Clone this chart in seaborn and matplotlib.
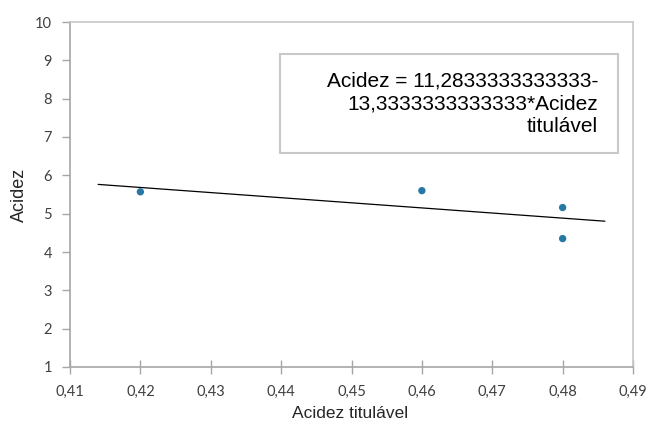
import matplotlib
matplotlib.use("Agg")
import matplotlib.pyplot as plt
import seaborn as sns
import numpy as np
import pandas as pd
from matplotlib.patches import Rectangle
from matplotlib.ticker import FuncFormatter, MultipleLocator

# Observations
acidez_titulavel = [0.42, 0.46, 0.48, 0.48]
acidez = [5.57, 5.60, 5.16, 4.35]

# Fitted model: Acidez = a + b * Acidez titulável
intercept = 11.2833333333333
slope = -13.3333333333333
trend_span = [0.414, 0.486]

equation_text = "Acidez = 11,2833333333333-\n13,3333333333333*Acidez\ntitulável"
x_title = "Acidez titulável"
y_title = "Acidez"

sns.set_theme(style="white")
plt.rcParams["font.family"] = ["Liberation Sans", "DejaVu Sans"]

W, H = 649, 426
fig = plt.figure(figsize=(W / 100, H / 100), dpi=100)
ax = fig.add_axes([70 / W, 1 - 367 / H, (633 - 70) / W, (367 - 22) / H])

df = pd.DataFrame({"x": acidez_titulavel, "y": acidez})
trend_x = np.linspace(trend_span[0], trend_span[1], 2)
trend = pd.DataFrame({"x": trend_x, "y": intercept + slope * trend_x})

sns.lineplot(data=trend, x="x", y="y", ax=ax, color="black", linewidth=0.9)
sns.scatterplot(data=df, x="x", y="y", ax=ax, color="#2878A5", s=28,
                edgecolor="none", zorder=3)

ax.set_xlim(0.41, 0.49)
ax.set_ylim(1, 10)
ax.xaxis.set_major_locator(MultipleLocator(0.01))
ax.yaxis.set_major_locator(MultipleLocator(1))
ax.xaxis.set_major_formatter(FuncFormatter(lambda v, p: f"{v:.2f}".replace(".", ",")))
ax.yaxis.set_major_formatter(FuncFormatter(lambda v, p: f"{v:.0f}"))
ax.set_xlabel("")
ax.set_ylabel("")

for side, sp in ax.spines.items():
    sp.set_visible(True)
    sp.set_linewidth(1.2)
    sp.set_color("#A6A6A6" if side in ("left", "bottom") else "#C8C8C8")

ax.tick_params(axis="x", direction="inout", length=10, width=1, color="#A6A6A6",
               pad=8, labelsize=10.5, labelcolor="#404040", bottom=True)
ax.tick_params(axis="y", direction="out", length=6, width=1, color="#A6A6A6",
               pad=7, labelsize=10.5, labelcolor="#404040", left=True)
for lab in ax.get_xticklabels() + ax.get_yticklabels():
    lab.set_family(["Lato", "DejaVu Sans"])

# Equation box
box = Rectangle((280 / W, 1 - 153 / H), (618 - 280) / W, (153 - 54) / H,
                transform=fig.transFigure, facecolor="white",
                edgecolor="#C8C8C8", linewidth=1.5, zorder=5)
fig.patches.append(box)
fig.text(598 / W, 1 - 104 / H, equation_text, ha="right", va="center",
         multialignment="right", fontsize=15, color="black", linespacing=1.25,
         zorder=6)

fig.text(350 / W, 1 - 414 / H, x_title, ha="center", va="center",
         fontsize=12.5, color="#262626")
fig.text(19 / W, 1 - 194.5 / H, y_title, ha="center", va="center",
         rotation=90, fontsize=13, color="#262626")

fig.savefig("out.png", dpi=100)
